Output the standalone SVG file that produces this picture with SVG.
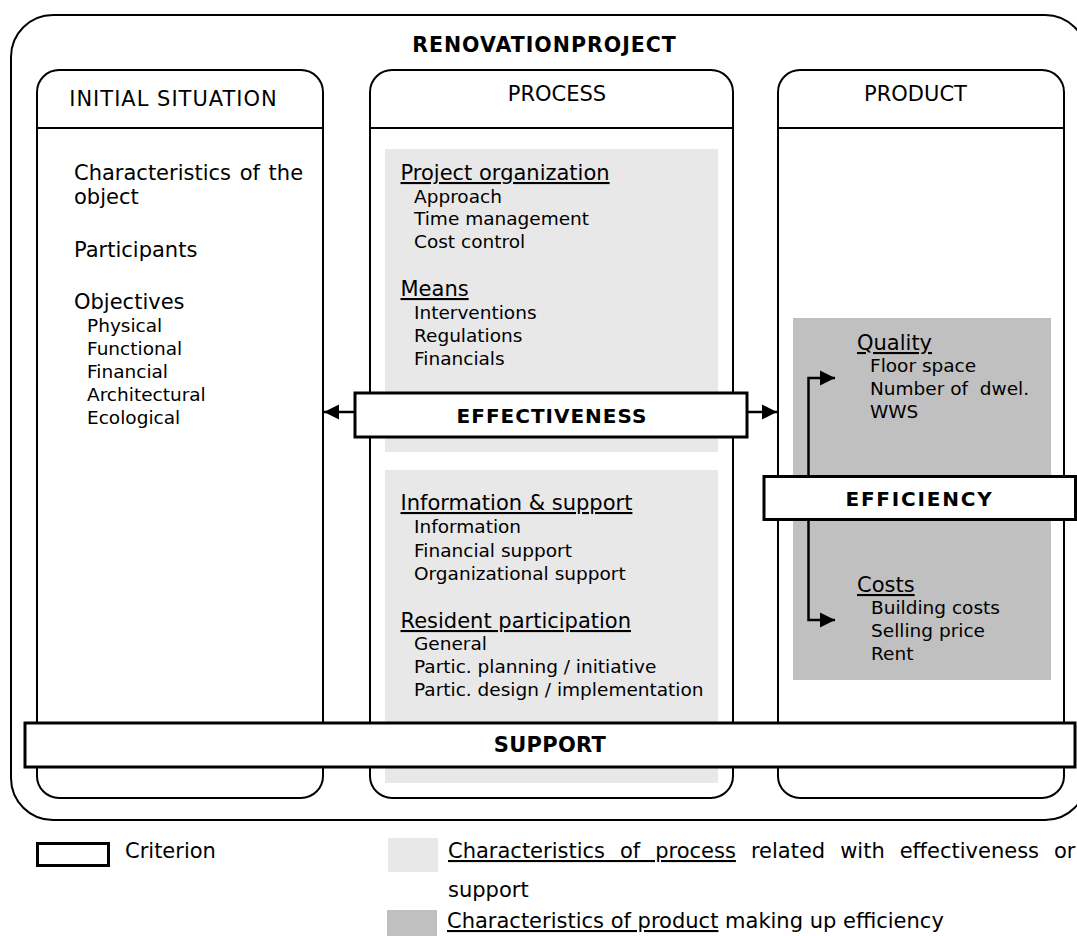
<svg xmlns="http://www.w3.org/2000/svg" width="1077" height="936" viewBox="0 0 1077 936">
<defs>
<style>
text{font-family:"DejaVu Sans",Verdana,sans-serif;fill:#000}
.hdr{font-size:21px}
.main{font-size:21px}
.sub{font-size:18.5px}
.u{text-decoration:underline}
.lbl{font-size:20px;font-weight:bold;letter-spacing:1px}
.frame{fill:#fff;stroke:#000;stroke-width:2}
.col{fill:#fff;stroke:#000;stroke-width:2}
.div{stroke:#000;stroke-width:2}
.crit{fill:#fff;stroke:#000;stroke-width:3}
.lg{fill:#e8e8e8}
.dg{fill:#c0c0c0}
.conn{fill:none;stroke:#000;stroke-width:2.5}
</style>
<marker id="ah" markerUnits="userSpaceOnUse" markerWidth="16" markerHeight="16" refX="15" refY="8" orient="auto" viewBox="0 0 16 16"><path d="M0,0.5 L15,8 L0,15.5z" fill="#000"/></marker>
</defs>
<rect width="1077" height="936" fill="#fff"/>

<g id="renovationproject">
<rect class="frame" x="11" y="15" width="1076" height="805" rx="42" ry="42"/>
<text class="lbl" x="544.5" y="52" text-anchor="middle" style="font-size:20.5px">RENOVATIONPROJECT</text>
</g>

<g id="initial-situation">
<rect class="col" x="37" y="70" width="286" height="728" rx="22" ry="22"/>
<line class="div" x1="37" y1="128" x2="323" y2="128"/>
<text class="hdr" x="173.5" y="106" text-anchor="middle" style="letter-spacing:1px">INITIAL SITUATION</text>
<text class="main" x="74" y="180" style="word-spacing:2px">Characteristics of the</text>
<text class="main" x="74" y="204">object</text>
<text class="main" x="74" y="257">Participants</text>
<text class="main" x="74" y="308.5">Objectives</text>
<text class="sub" x="87" y="331.5">Physical</text>
<text class="sub" x="87" y="355">Functional</text>
<text class="sub" x="87" y="378">Financial</text>
<text class="sub" x="87" y="400.5">Architectural</text>
<text class="sub" x="87" y="423.5">Ecological</text>
</g>

<g id="process">
<rect class="col" x="370" y="70" width="363" height="728" rx="22" ry="22"/>
<line class="div" x1="370" y1="128" x2="733" y2="128"/>
<text class="hdr" x="557" y="101" text-anchor="middle">PROCESS</text>
<rect class="lg" x="385" y="149" width="333" height="303"/>
<rect class="lg" x="385" y="470" width="333" height="313"/>
<text class="main u" x="400.5" y="180">Project organization</text>
<text class="sub" x="414" y="202.5">Approach</text>
<text class="sub" x="414" y="225">Time management</text>
<text class="sub" x="414" y="247.5">Cost control</text>
<text class="main u" x="400.5" y="296">Means</text>
<text class="sub" x="414" y="318.5">Interventions</text>
<text class="sub" x="414" y="341.5">Regulations</text>
<text class="sub" x="414" y="365">Financials</text>
<text class="main u" x="400.5" y="510">Information &amp; support</text>
<text class="sub" x="414" y="533">Information</text>
<text class="sub" x="414" y="556.5">Financial support</text>
<text class="sub" x="414" y="579.5">Organizational support</text>
<text class="main u" x="400.5" y="628">Resident participation</text>
<text class="sub" x="414" y="650">General</text>
<text class="sub" x="414" y="673">Partic. planning / initiative</text>
<text class="sub" x="414" y="695.5">Partic. design / implementation</text>
</g>

<g id="product">
<rect class="col" x="778" y="70" width="286" height="728" rx="22" ry="22"/>
<line class="div" x1="778" y1="128" x2="1064" y2="128"/>
<text class="hdr" x="915.5" y="101" text-anchor="middle">PRODUCT</text>
<rect class="dg" x="793" y="318" width="258" height="362"/>
<text class="main u" x="857" y="350">Quality</text>
<text class="sub" x="870" y="371.5">Floor space</text>
<text class="sub" x="870" y="395" style="white-space:pre">Number of  dwel.</text>
<text class="sub" x="870" y="417.5">WWS</text>
<text class="main u" x="857" y="592">Costs</text>
<text class="sub" x="871" y="614">Building costs</text>
<text class="sub" x="871" y="636.5">Selling price</text>
<text class="sub" x="871" y="659.5">Rent</text>
</g>

<g id="connectors">
<path class="conn" d="M355,412 H324" marker-end="url(#ah)"/>
<path class="conn" d="M747,412 H777" marker-end="url(#ah)"/>
<path class="conn" d="M808.5,477 V378 H835" marker-end="url(#ah)"/>
<path class="conn" d="M808.5,519 V620 H835" marker-end="url(#ah)"/>
</g>

<g id="effectiveness">
<rect class="crit" x="355" y="393" width="392" height="44"/>
<text class="lbl" x="552" y="423" text-anchor="middle">EFFECTIVENESS</text>
</g>

<g id="efficiency">
<rect class="crit" x="764" y="476.5" width="311.5" height="43"/>
<text class="lbl" x="919.5" y="505.5" text-anchor="middle" style="letter-spacing:1.8px">EFFICIENCY</text>
</g>

<g id="support">
<rect class="crit" x="25" y="723" width="1050" height="44"/>
<text class="lbl" x="550" y="752" text-anchor="middle" style="font-size:21px;letter-spacing:0.3px">SUPPORT</text>
</g>

<g id="legend">
<rect class="crit" x="37.5" y="843.5" width="71" height="22"/>
<text class="main" x="125" y="858">Criterion</text>
<rect class="lg" x="388" y="838" width="50" height="34"/>
<text class="main" x="448" y="858" style="word-spacing:8.3px"><tspan class="u">Characteristics of process</tspan> related with effectiveness or</text>
<text class="main" x="448" y="897">support</text>
<rect class="dg" x="387" y="910" width="50" height="34"/>
<text class="main" x="447" y="928"><tspan class="u">Characteristics of product</tspan> making up efficiency</text>
</g>
</svg>
